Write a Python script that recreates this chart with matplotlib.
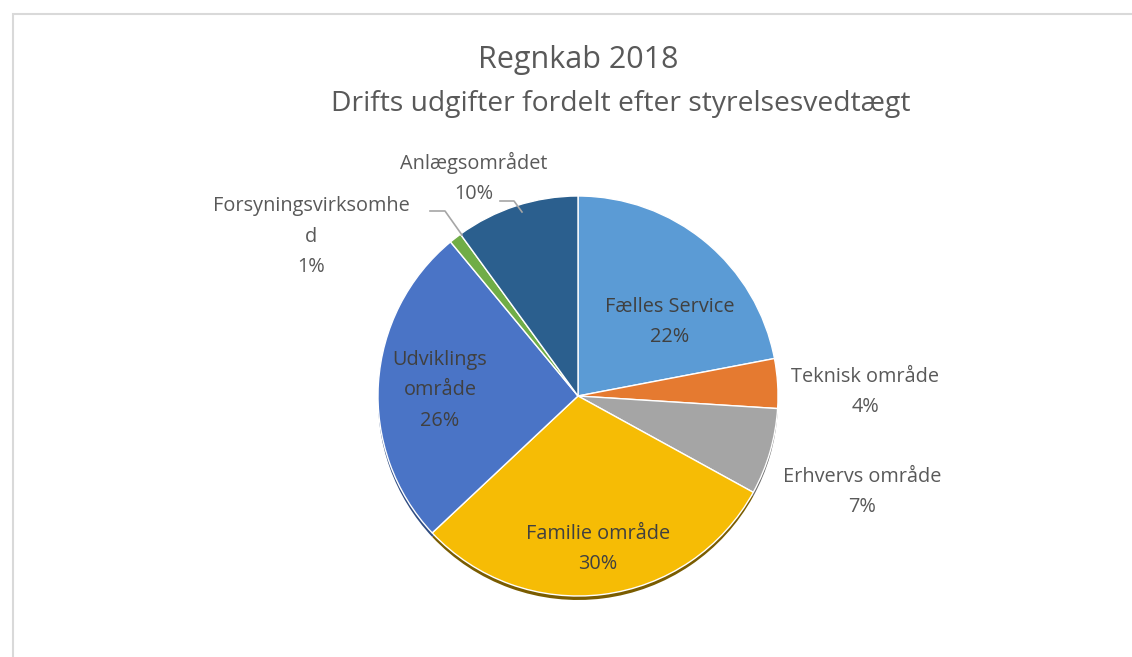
import matplotlib.pyplot as plt
from matplotlib.patches import Rectangle

# data
labels = ["Fælles Service", "Teknisk område", "Erhvervs område", "Familie område",
          "Udviklings\nområde", "Forsyningsvirksomhe\nd", "Anlægsområdet"]
shares = [22, 4, 7, 30, 26, 1, 10]
colors = ["#5B9BD5", "#E57A30", "#A5A5A5", "#F6BC05", "#4A74C6", "#70AD47", "#2B5F8E"]
shadow = ["#3d6a93", "#8f4c1c", "#6b6b6b", "#7a5c00", "#2f4c82", "#466e2c", "#1b3c5a"]

W, H = 1132, 657
plt.rcParams['font.family'] = ['Open Sans', 'DejaVu Sans']

fig = plt.figure(figsize=(W / 100, H / 100), dpi=100)
ax = fig.add_axes([0, 0, 1, 1])
ax.set_xlim(0, W)
ax.set_ylim(0, H)
ax.set_aspect("equal")
ax.axis("off")

# chart frame
fig.patches.append(Rectangle((13 / W, -0.1), 1.2, (H - 14) / H + 0.1,
                             transform=fig.transFigure, fill=False,
                             edgecolor="#d9d9d9", linewidth=1.5))

cx, cy, r = 578, H - 396, 200

# shadow rim
ax.pie(shares, colors=shadow, startangle=90, counterclock=False,
       center=(cx, cy - 4), radius=r, wedgeprops=dict(linewidth=0))
ax.pie(shares, colors=colors, startangle=90, counterclock=False,
       center=(cx, cy), radius=r,
       wedgeprops=dict(linewidth=1, edgecolor="white"))
ax.set_xlim(0, W)
ax.set_ylim(0, H)

inside = "#404040"
outside = "#595959"
fs = 14.3

def lab(x, y, s, c):
    ax.text(x, H - y, s, ha="center", va="center", fontsize=fs, color=c,
            linespacing=1.7)

lab(670, 322, "Fælles Service\n22%", inside)
lab(865, 392, "Teknisk område\n4%", outside)
lab(862, 492, "Erhvervs område\n7%", outside)
lab(598, 549, "Familie område\n30%", inside)
lab(440, 390, "Udviklings\nområde\n26%", inside)
lab(311, 237, "Forsyningsvirksomhe\nd\n1%", outside)
lab(474, 178, "Anlægsområdet\n10%", outside)

# leader lines
ax.plot([500, 514, 522], [H - 201, H - 201, H - 212], color="#a6a6a6", lw=1.2)
ax.plot([430, 445, 462], [H - 211, H - 211, H - 235], color="#a6a6a6", lw=1.2)

fig.text(578 / W, 1 - 60 / H, "Regnkab 2018", ha="center", va="center",
         fontsize=22, color=outside)
fig.text(621 / W, 1 - 104 / H, "Drifts udgifter fordelt efter styrelsesvedtægt",
         ha="center", va="center", fontsize=20.3, color=outside)

fig.savefig("out.png", dpi=100)
